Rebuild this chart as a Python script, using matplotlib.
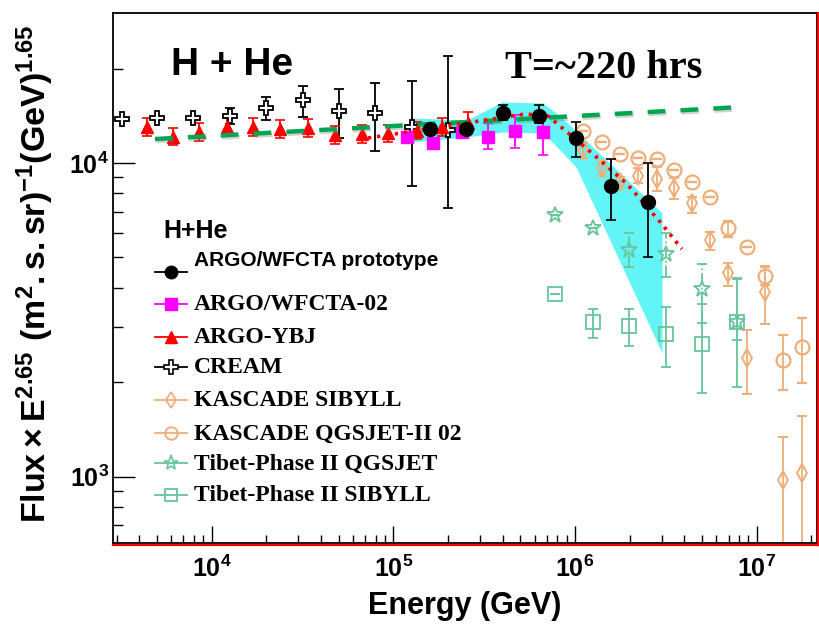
import numpy as np
import matplotlib
matplotlib.use('Agg')
import matplotlib.pyplot as plt
from matplotlib.lines import Line2D
import matplotlib.patheffects as pe
from matplotlib.ticker import LogLocator, NullFormatter, FuncFormatter

plt.rcParams['font.family'] = ['Liberation Sans', 'DejaVu Sans']
plt.rcParams['mathtext.fontset'] = 'custom'
plt.rcParams['mathtext.rm'] = 'Liberation Sans:bold'
plt.rcParams['mathtext.it'] = 'Liberation Sans:bold'
plt.rcParams['mathtext.bf'] = 'Liberation Sans:bold'
plt.rcParams['mathtext.default'] = 'rm'

# ---------------- data ----------------
proto_E = [1.59e5, 2.50e5, 4.00e5, 6.31e5, 1.01e6, 1.58e6, 2.51e6]
proto_F = [12800, 12830, 14460, 14110, 11990, 8450, 7530]
proto_lo = [12500, 12530, 13710, 13380, 10470, 6585, 5030]
proto_hi = [13100, 13130, 15300, 15300, 13540, 10270, 9980]

w02_E = [1.185e5, 1.66e5, 2.40e5, 3.33e5, 4.68e5, 6.64e5]
w02_F = [12130, 11560, 12550, 12130, 12670, 12580]
w02_lo = [11800, 11250, 12200, 11080, 11160, 10600]
w02_hi = [12470, 11880, 12900, 13410, 14220, 14110]

ybj_E = [4400, 6150, 8560, 12100, 16960, 23900, 34000, 47800, 67000, 93900, 134500, 184600, 257700]
ybj_F = [13050, 12130, 12580, 13050, 13050, 12830, 12900, 12280, 12340, 12430, 12690, 13020, 13410]
ybj_lo = [12230, 11370, 11790, 12230, 12230, 12020, 12090, 11510, 11560, 11650, 11890, 12200, 12570]
ybj_hi = [13920, 12940, 13420, 13920, 13920, 13690, 13760, 13100, 13170, 13260, 13540, 13890, 14570]

cream_E = [3200, 5000, 7900, 12600, 20000, 32000, 50000, 79000, 126000, 200000]
cream_F = [13810, 13940, 13940, 14150, 15000, 15870, 14640, 14400, 13020, 12740]
cream_lo = [13810, 13940, 13940, 13310, 13710, 13980, 11990, 10950, 8450, 7175]
cream_hi = [13810, 13940, 13940, 14970, 16260, 17590, 17210, 18020, 18290, 21970]

kas_E = [1.11e6, 1.40e6, 1.77e6, 2.23e6, 2.82e6, 3.52e6, 4.42e6, 5.53e6, 6.98e6, 8.81e6, 1.11e7, 1.40e7, 1.77e7]
kasS_F = [11000, 9618, 8718, 9090, 8893, 8307, 7440, 5685, 4453, 2388, 3892, 973, 1027]
kasS_lo = [10350, 9090, 8450, 8618, 8163, 7662, 6945, 5284, 4066, 1838, 3071, 400, 400]
kasS_hi = [11605, 10095, 9000, 9618, 9732, 8940, 7810, 6043, 4793, 2939, 4699, 1338, 1564]
kasQ_F = [12670, 11640, 10660, 10350, 10300, 9500, 8718, 7810, 6195, 5390, 4366, 2358, 2589]
kasQ_lo = [12670, 11640, 10660, 10350, 10300, 9500, 8718, 7810, 5825, 5390, 4088, 1893, 1988]
kasQ_hi = [12670, 11640, 10660, 10350, 10300, 9500, 8718, 7810, 6536, 5390, 4674, 2833, 3202]

tib_E = [7.76e5, 1.25e6, 1.99e6, 3.17e6, 4.98e6, 7.76e6]
tibQ_F = [6830, 6195, 5284, 5112, 3962, 3123]
tibQ_lo = [6830, 6195, 4665, 4335, 3093, 2732]
tibQ_hi = [6830, 6195, 5987, 5987, 4768, 4304]
tibS_F = [3818, 3123, 3026, 2848, 2652, 3123]
tibS_lo = [3818, 2772, 2614, 2240, 1851, 1935]
tibS_hi = [3818, 3428, 3428, 3478, 3556, 4272]

band_E = [1.283e5, 2.544e5, 3.96e5, 6.667e5, 8.268e5, 1.013e6, 3.012e6]
band_lo = [11670, 12100, 12550, 12460, 11000, 9710, 2482]
band_hi = [13910, 13710, 15640, 15530, 14110, 12650, 6930]

green_E = [4880, 8.62e6]
green_F = [11920, 15100]

red_E = [72600, 530700, 709600, 1.256e6, 1.933e6, 2.937e6, 3.88e6]
red_F = [12010, 14320, 14120, 10680, 8573, 6488, 5320]

labels = ['ARGO/WFCTA prototype', 'ARGO/WFCTA-02', 'ARGO-YBJ', 'CREAM',
          'KASCADE SIBYLL', 'KASCADE QGSJET-II 02', 'Tibet-Phase II QGSJET',
          'Tibet-Phase II SIBYLL']

# ---------------- style ----------------
C_MAG = '#ff00ff'
C_RED = '#ff0000'
C_ORA = '#eeae78'
C_TEAL = '#67c59c'
C_CYAN = '#63f4f7'
C_GREEN = '#00a54f'

fig = plt.figure(figsize=(8.2, 6.36), dpi=100)
ax = fig.add_axes([0.1382, 0.1455, 0.8582, 0.8336])
ax.set_xscale('log')
ax.set_yscale('log')
ax.set_xlim(2877, 2.148e7)
ax.set_ylim(613, 29990)


def yerr(F, lo, hi):
    F = np.asarray(F, float)
    return [F - np.asarray(lo, float), np.asarray(hi, float) - F]


ax.fill_between(band_E, band_lo, band_hi, color=C_CYAN, lw=0, zorder=1)

common = dict(elinewidth=1.3, capsize=3.5, capthick=1.2, linestyle='none')

ax.errorbar(kas_E, kasS_F, yerr=yerr(kasS_F, kasS_lo, kasS_hi), marker='d', ms=9,
            mfc='none', mec=C_ORA, mew=1.4, ecolor=C_ORA, zorder=2, **common)
ax.errorbar(kas_E, kasQ_F, yerr=yerr(kasQ_F, kasQ_lo, kasQ_hi), marker='o', ms=10,
            mfc='none', mec=C_ORA, mew=1.6, ecolor=C_ORA, zorder=2, **common)
tq = ax.errorbar(tib_E, tibQ_F, yerr=yerr(tibQ_F, tibQ_lo, tibQ_hi), marker='*', ms=12,
                 mfc='none', mec=C_TEAL, mew=1.3, ecolor=C_TEAL, zorder=2, **common)
tq[2][0].set_linestyle('-.')
ax.errorbar(tib_E, tibS_F, yerr=yerr(tibS_F, tibS_lo, tibS_hi), marker='s', ms=9.5,
            mfc='none', mec=C_TEAL, mew=1.3, ecolor=C_TEAL, zorder=2, **common)

ax.errorbar(cream_E, cream_F, yerr=yerr(cream_F, cream_lo, cream_hi), marker='P', ms=10.5,
            mfc='white', mec='black', mew=1.3, ecolor='black', zorder=3, **common)
ax.errorbar(ybj_E, ybj_F, yerr=yerr(ybj_F, ybj_lo, ybj_hi), marker='^', ms=9,
            mfc=C_RED, mec=C_RED, ecolor=C_RED, zorder=3, **common)
ax.errorbar(w02_E, w02_F, yerr=yerr(w02_F, w02_lo, w02_hi), marker='s', ms=9,
            mfc=C_MAG, mec=C_MAG, ecolor=C_MAG, zorder=4, **common)

ax.plot(green_E, green_F, color=C_GREEN, lw=3.2, dashes=(4.0, 3.4), zorder=5,
        path_effects=[pe.SimpleLineShadow(offset=(0.8, -1.5), shadow_color='gray', alpha=0.35),
                      pe.Normal()])
ax.plot(red_E, red_F, color=C_RED, lw=2.6, dashes=(0.9, 1.6), zorder=6)

ax.errorbar(proto_E, proto_F, yerr=yerr(proto_F, proto_lo, proto_hi), marker='o', ms=10,
            mfc='black', mec='black', ecolor='black', zorder=8, **common)

# ---------------- axes styling ----------------
for s in ax.spines.values():
    s.set_linewidth(1.3)
    s.set_color('black')

ax.xaxis.set_major_locator(LogLocator(base=10, numticks=20))
ax.xaxis.set_minor_locator(LogLocator(base=10, subs=np.arange(2, 10), numticks=50))
ax.yaxis.set_major_locator(LogLocator(base=10, numticks=20))
ax.yaxis.set_minor_locator(LogLocator(base=10, subs=np.arange(2, 10), numticks=50))
fmt = FuncFormatter(lambda v, p: r'$10^{%d}$' % int(round(np.log10(v))))
ax.xaxis.set_major_formatter(fmt)
ax.yaxis.set_major_formatter(fmt)
ax.xaxis.set_minor_formatter(NullFormatter())
ax.yaxis.set_minor_formatter(NullFormatter())
ax.tick_params(axis='x', which='major', direction='in', length=12, width=1.0, labelsize=18, pad=9,
               top=False)
ax.tick_params(axis='x', which='minor', direction='in', length=6, width=1.0, top=False)
ax.tick_params(axis='y', which='major', direction='in', length=15.5, width=1.0, labelsize=18, pad=3,
               right=False)
ax.tick_params(axis='y', which='minor', direction='in', length=7.5, width=1.0, right=False)

# red frame lines (right and bottom)
ax.plot([1.002, 1.002], [-0.003, 1.0], transform=ax.transAxes, color=C_RED, lw=1.6,
        clip_on=False, zorder=10)
ax.plot([0.0, 1.002], [-0.003, -0.003], transform=ax.transAxes, color=C_RED, lw=1.6,
        clip_on=False, zorder=10)

ax.set_xlabel('Energy (GeV)', fontsize=22, fontweight='bold', labelpad=6)
fig.text(0.043, 1 - 274 / 636,
         r'$\mathrm{Flux}\times\mathrm{E}^{2.65}\ (\mathrm{m}^{2}\mathrm{.s.sr})^{-1}(\mathrm{GeV})^{1.65}$',
         rotation=90, fontsize=24.5, ha='center', va='center')

fig.text(171 / 820, 1 - 75 / 636, 'H + He', fontsize=28, fontweight='bold', va='baseline')
fig.text(505 / 820, 1 - 78 / 636, 'T=~220 hrs', fontsize=29, fontweight='bold',
         family='Liberation Serif', va='baseline')

# ---------------- legend ----------------
def fx(px):
    return (px - 113.3) / 703.7


def fy(py):
    return 1 - (py - 13.3) / 530.2


ax.text(fx(163), fy(231), 'H+He', transform=ax.transAxes, fontsize=18, fontweight='bold',
        va='center', ha='left')
leg_rows = [271.7, 304, 336.7, 366.7, 400, 433.3, 463.3, 495]
leg_style = [
    dict(marker='o', ms=9, mfc='black', mec='black', color='black', ls='-'),
    dict(marker='s', ms=8, mfc=C_MAG, mec=C_MAG, color=C_MAG, ls='-'),
    dict(marker='^', ms=8.5, mfc=C_RED, mec=C_RED, color=C_RED, ls='-'),
    dict(marker='P', ms=9.5, mfc='white', mec='black', mew=1.2, color='black', ls='-'),
    dict(marker='d', ms=8.5, mfc='none', mec=C_ORA, mew=1.3, color=C_ORA, ls='-'),
    dict(marker='o', ms=9, mfc='none', mec=C_ORA, mew=1.4, color=C_ORA, ls='-'),
    dict(marker='*', ms=11, mfc='none', mec=C_TEAL, mew=1.2, color=C_TEAL, ls='-'),
    dict(marker='s', ms=9, mfc='none', mec=C_TEAL, mew=1.3, color=C_TEAL, ls='-'),
]
for i, (py, st, lab) in enumerate(zip(leg_rows, leg_style, labels)):
    ax.add_line(Line2D([fx(155), fx(187)], [fy(py), fy(py)], transform=ax.transAxes,
                       color=st['color'], lw=1.3, zorder=9))
    mk = {k: v for k, v in st.items() if k not in ('color', 'ls')}
    ax.add_line(Line2D([fx(171)], [fy(py)], transform=ax.transAxes, ls='none', zorder=9, **mk))
    if i == 0:
        ax.text(fx(194), fy(py - 11.5), lab, transform=ax.transAxes, fontsize=15,
                fontweight='bold', va='center', ha='left', family='Liberation Sans')
    else:
        ax.text(fx(194), fy(py + 1), lab, transform=ax.transAxes, fontsize=17,
                fontweight='bold', va='center', ha='left', family='Liberation Serif')

fig.savefig('out.png', dpi=100)
